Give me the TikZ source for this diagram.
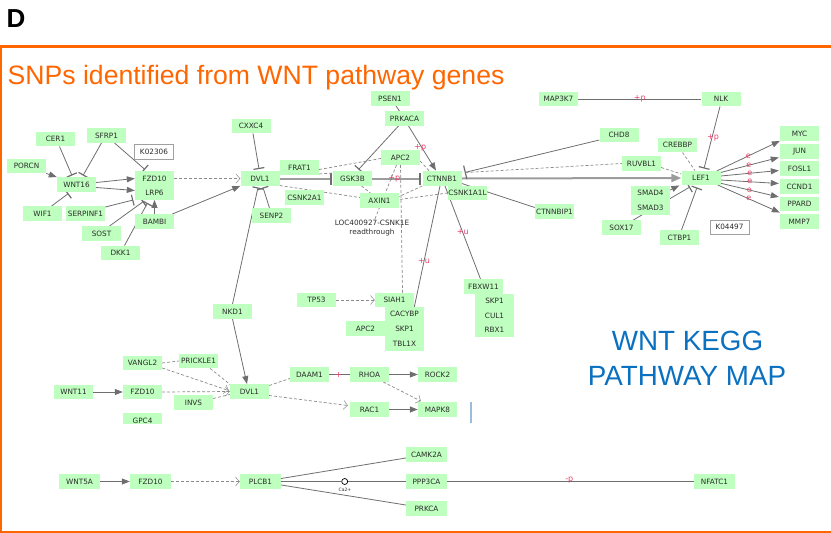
\documentclass[tikz,border=0pt]{standalone}
\usepackage{fontspec}
\setmainfont{DejaVu Sans}
\newfontfamily\arialf{Liberation Sans}
\newfontfamily\genef{DejaVu Sans}
\usetikzlibrary{arrows.meta,calc}
\definecolor{genegreen}{HTML}{BFFFBF}
\definecolor{genetext}{HTML}{2B2B2B}
\definecolor{edgegray}{HTML}{6E6E6E}
\definecolor{dashgray}{HTML}{8A8A8A}
\definecolor{thickgray}{HTML}{9C9C9C}
\definecolor{labred}{HTML}{E8406A}
\definecolor{frameorange}{HTML}{FF6600}
\definecolor{keggblue}{HTML}{0A70C0}
\definecolor{kboxgray}{HTML}{A0A0A0}
\definecolor{bluebar}{HTML}{9DBCD9}
\pgfdeclarelayer{bg}
\pgfsetlayers{bg,main}
\tikzset{
 gene/.style={fill=genegreen, text=genetext, minimum width=39pt, minimum height=14.5pt, inner sep=0pt, font=\genef\fontsize{7.3}{8}\selectfont},
 wgene/.style={gene, minimum width=41pt},
 kbox/.style={gene, fill=white, draw=kboxgray, line width=0.5pt},
 ln/.style={draw=edgegray, line width=0.8pt},
 act/.style={ln, -{Triangle[length=8pt,width=6pt]}},
 inh/.style={ln, -{Bar[width=11pt,line width=1.2pt]}},
 dsh/.style={draw=dashgray, line width=0.7pt, dash pattern=on 3pt off 2pt},
 dact/.style={dsh, -{Straight Barb[length=4pt,width=9pt,line width=0.5pt]}},
 thk/.style={draw=thickgray, line width=2pt},
 thkinh/.style={thk, -{Bar[width=12pt,line width=2.2pt,color=edgegray]}},
 thkact/.style={thk, -{Triangle[length=10pt,width=8pt]}},
 lab/.style={text=labred, font=\genef\fontsize{8}{9}\selectfont, inner sep=0pt},
 txt/.style={text=genetext, font=\genef\fontsize{7.3}{9}\selectfont, inner sep=0pt, align=center},
}
\begin{document}
\begin{tikzpicture}[x=1pt,y=-1pt]
\useasboundingbox (0,0) rectangle (831,533);
% frame and headings
\draw[frameorange, line width=3pt] (0,46.5) -- (831,46.5);
\draw[frameorange, line width=2pt] (1,46.5) -- (1,532) (0,532) -- (831,532);
\node[anchor=base west, inner sep=0, font=\arialf\bfseries\fontsize{26}{30}\selectfont] (hd) at (6.5,27) {D};
\node[anchor=base west, inner sep=0, text=frameorange, font=\arialf\fontsize{26.6}{30}\selectfont] (title) at (7.5,84) {SNPs identified from WNT pathway genes};
\node[anchor=base, inner sep=0, text=keggblue, font=\arialf\fontsize{27.8}{32}\selectfont] (k1) at (687.5,350) {WNT KEGG};
\node[anchor=base, inner sep=0, text=keggblue, font=\arialf\fontsize{27.8}{32}\selectfont] (k2) at (687,385) {PATHWAY MAP};

% upper left
\node[gene] (CER1) at (55.5,139) {CER1};
\node[gene] (SFRP1) at (106.5,135.5) {SFRP1};
\node[gene] (PORCN) at (26.5,166) {PORCN};
\node[gene] (WNT16) at (76.5,184.5) {WNT16};
\node[kbox] (K02306) at (154,151.5) {K02306};
\node[gene] (FZD10a) at (154.5,178.5) {FZD10};
\node[gene] (LRP6) at (154.5,192.5) {LRP6};
\node[gene] (WIF1) at (42.5,213.5) {WIF1};
\node[gene] (SERPINF1) at (85.5,213.5) {SERPINF1};
\node[gene] (BAMBI) at (154.5,221.5) {BAMBI};
\node[gene] (SOST) at (101.5,233.5) {SOST};
\node[gene] (DKK1) at (120.5,253) {DKK1};
\node[gene] (CXXC4) at (251,126) {CXXC4};
\node[gene] (DVL1a) at (260,178.5) {DVL1};
\node[gene] (SENP2) at (271.5,215.5) {SENP2};
\node[gene] (FRAT1) at (299.5,167.5) {FRAT1};
\node[gene] (CSNK2A1) at (304.5,197.5) {CSNK2A1};
% centre
\node[gene] (PSEN1) at (390,98.5) {PSEN1};
\node[gene] (PRKACA) at (404.5,118.5) {PRKACA};
\node[gene] (APC2a) at (400.5,157.5) {APC2};
\node[gene] (GSK3B) at (352.5,178.5) {GSK3B};
\node[gene] (CTNNB1) at (442,178.5) {CTNNB1};
\node[gene] (AXIN1) at (379.5,200.5) {AXIN1};
\node[gene] (CSNK1A1L) at (467.5,193) {CSNK1A1L};
\node[txt] (LOC) at (372,228.5) {LOC400927-CSNK1E\\readthrough};
% right
\node[gene] (MAP3K7) at (558.5,99) {MAP3K7};
\node[gene] (NLK) at (721,99) {NLK};
\node[gene] (CHD8) at (619,135) {CHD8};
\node[gene] (CREBBP) at (677.5,145) {CREBBP};
\node[gene] (RUVBL1) at (641.5,163.5) {RUVBL1};
\node[gene] (LEF1) at (701,178) {LEF1};
\node[gene] (SMAD4) at (650.5,193) {SMAD4};
\node[gene] (SMAD3) at (650.5,207.5) {SMAD3};
\node[gene] (CTNNBIP1) at (554.5,211.5) {CTNNBIP1};
\node[gene] (SOX17) at (621.5,227.5) {SOX17};
\node[gene] (CTBP1) at (679.5,237.5) {CTBP1};
\node[kbox] (K04497) at (729.5,227) {K04497};
\node[gene] (MYC) at (799.5,133.5) {MYC};
\node[gene] (JUN) at (799.5,151.5) {JUN};
\node[gene] (FOSL1) at (799.5,168.5) {FOSL1};
\node[gene] (CCND1) at (799.5,186.5) {CCND1};
\node[gene] (PPARD) at (799.5,204) {PPARD};
\node[gene] (MMP7) at (799.5,221.5) {MMP7};
% degradation
\node[gene] (TP53) at (316.5,300) {TP53};
\node[gene] (SIAH1) at (394.5,300) {SIAH1};
\node[gene] (CACYBP) at (404.5,314) {CACYBP};
\node[gene] (SKP1a) at (404.5,328.5) {SKP1};
\node[gene] (TBL1X) at (404.5,343.5) {TBL1X};
\node[gene] (APC2b) at (365.5,328.5) {APC2};
\node[gene] (FBXW11) at (483.5,286.5) {FBXW11};
\node[gene] (SKP1b) at (494.5,301) {SKP1};
\node[gene] (CUL1) at (494.5,315.5) {CUL1};
\node[gene] (RBX1) at (494.5,330) {RBX1};
% PCP
\node[gene] (NKD1) at (232.5,311.5) {NKD1};
\node[gene] (VANGL2) at (142.5,363) {VANGL2};
\node[gene] (PRICKLE1) at (198.5,361) {PRICKLE1};
\node[gene] (WNT11) at (73.5,392) {WNT11};
\node[gene] (FZD10b) at (142.5,392) {FZD10};
\node[gene] (INVS) at (193.5,402.5) {INVS};
\begin{scope}
\clip (100,400) rectangle (180,423);
\node[gene] (GPC4) at (142.5,420.5) {GPC4};
\end{scope}
\node[gene] (DVL1b) at (249.5,391.5) {DVL1};
\node[gene] (DAAM1) at (309.5,374.5) {DAAM1};
\node[gene] (RHOA) at (369.5,374.5) {RHOA};
\node[gene] (ROCK2) at (437.5,374.5) {ROCK2};
\node[gene] (RAC1) at (369.5,409.5) {RAC1};
\node[gene] (MAPK8) at (437.5,409.5) {MAPK8};
\draw[bluebar, line width=1.2pt] (471,402) -- (471,423);
% Ca2+
\node[wgene] (WNT5A) at (79.5,481.5) {WNT5A};
\node[wgene] (FZD10c) at (150.5,481.5) {FZD10};
\node[wgene] (PLCB1) at (260.5,481.5) {PLCB1};
\node[wgene] (CAMK2A) at (426.5,454.5) {CAMK2A};
\node[wgene] (PPP3CA) at (426.5,481.5) {PPP3CA};
\node[wgene] (PRKCA) at (426.5,508.5) {PRKCA};
\node[wgene] (NFATC1) at (714.5,481.5) {NFATC1};
\node[circle, draw=black, fill=white, minimum size=6pt, inner sep=0pt, line width=0.7pt] (Ca) at (344.7,481.5) {};
\node[inner sep=0pt, text=genetext, font=\genef\fontsize{4.5}{5}\selectfont] (CaL) at (345,490) {Ca2+};

\begin{pgfonlayer}{bg}
% upper left
\draw[act] (PORCN.south east) -- (WNT16.north west);
\draw[inh] ($(CER1.south)+(4,0)$) -- ($(WNT16.north)+(-4.5,-1.5)$);
\draw[inh] ($(SFRP1.south)+(-5,0)$) -- ($(WNT16.north)+(6.5,-1.5)$);
\draw[inh] ($(SFRP1.south)+(8,0)$) -- ($(FZD10a.north)+(-9.5,-1.5)$);
\draw[inh] ($(WIF1.north)+(9,0)$) -- ($(WNT16.south)+(-8,1.5)$);
\draw[act] ($(WNT16.east)+(0,-2)$) -- (FZD10a.west);
\draw[act] ($(WNT16.east)+(0,3)$) -- ($(LRP6.west)+(0,-2)$);
\draw[inh] ($(SERPINF1.north east)+(0,1)$) -- ($(LRP6.south west)+(-1.5,0)$);
\draw[inh] ($(SOST.north)+(8,0)$) -- ($(LRP6.south)+(-11,1.5)$);
\draw[inh] ($(DKK1.north)+(4,0)$) -- ($(LRP6.south)+(-7,3)$);
\draw[act] (BAMBI.north) -- (LRP6.south);
\draw[act] ($(BAMBI.north east)+(-2,0)$) -- (DVL1a.south west);
\draw[dact] (FZD10a.east) -- (DVL1a.west);
\draw[inh] ($(CXXC4.south)+(2,0)$) -- ($(DVL1a.north)+(-1,-2)$);
\draw[inh] ($(SENP2.north)+(-2,0)$) -- ($(DVL1a.south)+(3,1.5)$);
\draw[inh] (NKD1.north) -- ($(DVL1a.south)+(-2,1.5)$);
\draw[act] (NKD1.south) -- ($(DVL1b.north)+(-2.5,0)$);
% core
\draw[thkinh] (DVL1a.east) -- ($(GSK3B.west)+(-1,0)$);
\draw[thkinh] (GSK3B.east) -- node[lab,pos=0.45]{+p} ($(CTNNB1.west)+(-1,0)$);
\draw[thkact] (CTNNB1.east) -- (LEF1.west);
\draw[ln, -{Bar[width=14pt,line width=1.2pt]}] ($(CHD8.west)+(0,5)$) -- ($(CTNNB1.east)+(3,-6)$);
\draw[dsh] ($(CTNNB1.east)+(4,-6)$) -- (RUVBL1.west);
\draw[dsh] ($(RUVBL1.east)+(0,4)$) -- ($(LEF1.west)+(0,-4)$);
\draw[ln] ($(CTNNB1.east)+(-6,3)$) -- ($(CTNNBIP1.west)+(0,-4)$);
\draw[act] ($(PRKACA.south)+(4,0)$) -- node[lab,pos=0.5,xshift=-2pt]{+p} ($(CTNNB1.north)+(-6,-0.5)$);
\draw[inh] ($(PRKACA.south)+(-6,0)$) -- ($(GSK3B.north)+(6,-1.5)$);
\draw[ln] ($(PSEN1.south)+(6,0)$) -- ($(PRKACA.north)+(-5,0)$);
\draw[dsh] ($(FRAT1.east)+(0,2)$) -- ($(APC2a.west)+(0,1)$);
\draw[dsh] ($(FRAT1.south east)+(0,-1)$) -- ($(GSK3B.north west)+(0,2)$);
\draw[dsh] ($(DVL1a.east)+(0,7)$) -- ($(AXIN1.west)+(0,-3)$);
\draw[dsh] ($(GSK3B.south)+(9,0)$) -- ($(AXIN1.north)+(-9,0)$);
\draw[dsh] ($(APC2a.south)+(-4,0)$) -- ($(LOC.north)+(2,1)$);
\draw[dsh] (APC2a.south) -- ($(SIAH1.north)+(8,0)$);
\draw[dsh] (CTNNB1.south west) -- ($(AXIN1.east)+(0,-4)$);
\draw[dsh] (CSNK1A1L.west) -- ($(AXIN1.east)+(0,-1)$);
\draw[dsh] ($(APC2a.east)+(0,3.5)$) -- ($(CTNNB1.north west)+(7,0)$);
\draw[ln] ($(CTNNB1.south)+(-2,0)$) -- node[lab,pos=0.62]{+u} (SIAH1.south east);
\draw[ln] ($(CTNNB1.south)+(3,0)$) -- node[lab,pos=0.5]{+u} ($(FBXW11.north)+(-3,0)$);
% right
\draw[ln] (MAP3K7.east) -- node[lab,pos=0.5]{+p} (NLK.west);
\draw[inh] ($(NLK.south)+(-1,0)$) -- node[lab,pos=0.5,xshift=1pt]{+p} ($(LEF1.north)+(3,-2)$);
\draw[dsh] ($(CREBBP.south)+(5,0)$) -- ($(LEF1.north)+(-6,0)$);
\draw[act] ($(SMAD4.east)+(0,-3)$) -- ($(LEF1.south west)+(-2,0)$);
\draw[inh] ($(SOX17.north east)+(-8,0)$) -- ($(LEF1.south)+(-11,1.5)$);
\draw[inh] ($(CTBP1.north)+(2,0)$) -- ($(LEF1.south)+(-4,2)$);
\draw[act] ($(LEF1.east)+(-4,-7)$) -- node[lab,pos=0.5]{e} (MYC.south west);
\draw[act] ($(LEF1.east)+(-2,-5)$) -- node[lab,pos=0.5]{e} ($(JUN.west)+(-1,6)$);
\draw[act] ($(LEF1.east)+(0,-2)$) -- node[lab,pos=0.5]{e} ($(FOSL1.west)+(-1,2)$);
\draw[act] ($(LEF1.east)+(0,2)$) -- node[lab,pos=0.5]{e} ($(CCND1.west)+(-1,-3)$);
\draw[act] ($(LEF1.east)+(-1,5)$) -- node[lab,pos=0.5]{e} ($(PPARD.west)+(-1,-7)$);
\draw[act] ($(LEF1.east)+(-3,7)$) -- node[lab,pos=0.5]{e} ($(MMP7.north west)+(0,-1.5)$);
% degradation
\draw[dact] (TP53.east) -- (SIAH1.west);
% PCP
\draw[dsh] (VANGL2.east) -- (PRICKLE1.west);
\draw[dact] ($(VANGL2.east)+(0,5)$) -- ($(DVL1b.west)+(-1,-1)$);
\draw[dsh] ($(PRICKLE1.south east)+(-8,0)$) -- ($(DVL1b.north west)+(1,1)$);
\draw[dact] (FZD10b.east) -- (DVL1b.west);
\draw[dsh] ($(INVS.east)+(0,-4)$) -- ($(DVL1b.west)+(0,3)$);
\draw[act] (WNT11.east) -- (FZD10b.west);
\draw[dsh] ($(DVL1b.east)+(0,-6)$) -- ($(DAAM1.west)+(0,4)$);
\draw[dact] ($(DVL1b.east)+(0,4)$) -- ($(RAC1.west)+(-2,-4)$);
\draw[ln] (DAAM1.east) -- node[lab,pos=0.45]{+} (RHOA.west);
\draw[act] (RHOA.east) -- (ROCK2.west);
\draw[dact] ($(RHOA.south east)+(-6,0)$) -- ($(MAPK8.north west)+(3,-1)$);
\draw[act, line width=1.3pt] (RAC1.east) -- (MAPK8.west);
% Ca2+
\draw[act] (WNT5A.east) -- (FZD10c.west);
\draw[dact] (FZD10c.east) -- (PLCB1.west);
\draw[ln] ($(PLCB1.east)+(0,-3)$) -- ($(CAMK2A.west)+(0,3.5)$);
\draw[ln] (PLCB1.east) -- (Ca.west);
\draw[ln] (Ca.east) -- (PPP3CA.west);
\draw[ln] ($(PLCB1.east)+(0,3.5)$) -- ($(PRKCA.west)+(0,-3.5)$);
\draw[ln] (PPP3CA.east) -- node[lab,pos=0.495,yshift=1.5pt]{-p} (NFATC1.west);
\end{pgfonlayer}
\end{tikzpicture}
\end{document}
